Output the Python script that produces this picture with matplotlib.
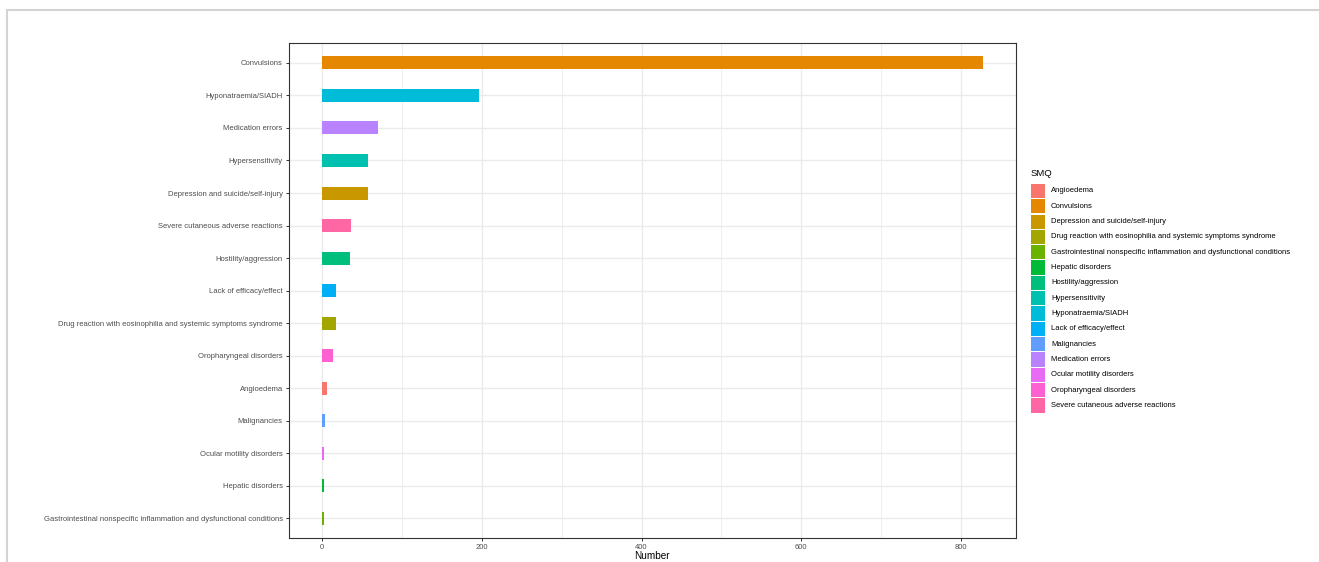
import matplotlib
matplotlib.use("Agg")
import matplotlib.pyplot as plt
from matplotlib.patches import Rectangle
from matplotlib.lines import Line2D

plt.rcParams['font.family'] = ['Liberation Sans', 'DejaVu Sans']

# Data (plot order: bottom to top)
categories = [
    "Gastrointestinal nonspecific inflammation and dysfunctional conditions",
    "Hepatic disorders",
    "Ocular motility disorders",
    "Malignancies",
    "Angioedema",
    "Oropharyngeal disorders",
    "Drug reaction with eosinophilia and systemic symptoms syndrome",
    "Lack of efficacy/effect",
    "Hostility/aggression",
    "Severe cutaneous adverse reactions",
    "Depression and suicide/self-injury",
    "Hypersensitivity",
    "Medication errors",
    "Hyponatraemia/SIADH",
    "Convulsions",
]
values = [3, 3, 3, 4, 6, 14, 18, 18, 35, 36, 57, 57, 70, 196, 827]

legend_levels = [
    "Angioedema", "Convulsions", "Depression and suicide/self-injury",
    "Drug reaction with eosinophilia and systemic symptoms syndrome",
    "Gastrointestinal nonspecific inflammation and dysfunctional conditions",
    "Hepatic disorders", "Hostility/aggression", "Hypersensitivity",
    "Hyponatraemia/SIADH", "Lack of efficacy/effect", "Malignancies",
    "Medication errors", "Ocular motility disorders", "Oropharyngeal disorders",
    "Severe cutaneous adverse reactions",
]
level_colors = ["#F8766D", "#E58700", "#C99800", "#A3A500", "#6BB100", "#00BA38",
                "#00BF7D", "#00C0AF", "#00BCD8", "#00B0F6", "#619CFF", "#B983FF",
                "#E76BF3", "#FD61D1", "#FF67A4"]
color_map = dict(zip(legend_levels, level_colors))

x_ticks = [0, 200, 400, 600, 800]
x_minor = [100, 300, 500, 700]

W, H = 1319, 562
fig = plt.figure(figsize=(W / 100, H / 100), dpi=100)

def fx(px):
    return px / W

def fy(py):
    return 1 - py / H

# outer light frame (top and left)
fig.add_artist(Line2D([fx(7), 1.0], [fy(10), fy(10)], color="#D3D3D3", lw=1.5,
                      transform=fig.transFigure))
fig.add_artist(Line2D([fx(7), fx(7)], [0, fy(10)], color="#D3D3D3", lw=1.5,
                      transform=fig.transFigure))

left, right, top, bottom = 289, 1015.7, 43.3, 538
ax = fig.add_axes([fx(left), fy(bottom), (right - left) / W, (bottom - top) / H])

ypos = list(range(len(categories)))
ax.barh(ypos, values, height=0.4, color=[color_map[c] for c in categories], zorder=3)

vmax = max(values)
ax.set_xlim(-0.05 * vmax, vmax * 1.05)
ax.set_ylim(-0.6, len(categories) - 1 + 0.6)

ax.set_xticks(x_ticks)
ax.set_xticks(x_minor, minor=True)
ax.set_yticks(ypos)
ax.set_yticklabels(categories)

ax.grid(True, which="major", color="#EBEBEB", lw=1.0, zorder=0)
ax.grid(True, which="minor", axis="x", color="#EBEBEB", lw=0.6, zorder=0)
ax.set_axisbelow(True)

for s in ax.spines.values():
    s.set_color("#333333")
    s.set_linewidth(0.8)

ax.tick_params(axis="both", which="major", length=2.5, width=0.7, color="#333333",
               labelsize=5.5, labelcolor="#4D4D4D", pad=2)
ax.tick_params(axis="x", which="minor", length=0)

ax.set_xlabel("Number", fontsize=7.2, color="black", labelpad=0)

# legend drawn manually (ggplot-style keys)
fig.text(fx(1031), fy(173), "SMQ", fontsize=6.8, color="black", va="center", ha="left")
key_w, key_h, y0, dy = 14, 14.3, 191, 15.33
for i, (lab, col) in enumerate(zip(legend_levels, level_colors)):
    yc = y0 + i * dy
    fig.add_artist(Rectangle((fx(1031), fy(yc + key_h / 2)), key_w / W, key_h / H,
                             facecolor=col, edgecolor="none", transform=fig.transFigure))
    fig.text(fx(1051), fy(yc), lab, fontsize=5.5, color="black", va="center", ha="left")

fig.savefig("out.png", dpi=100)
